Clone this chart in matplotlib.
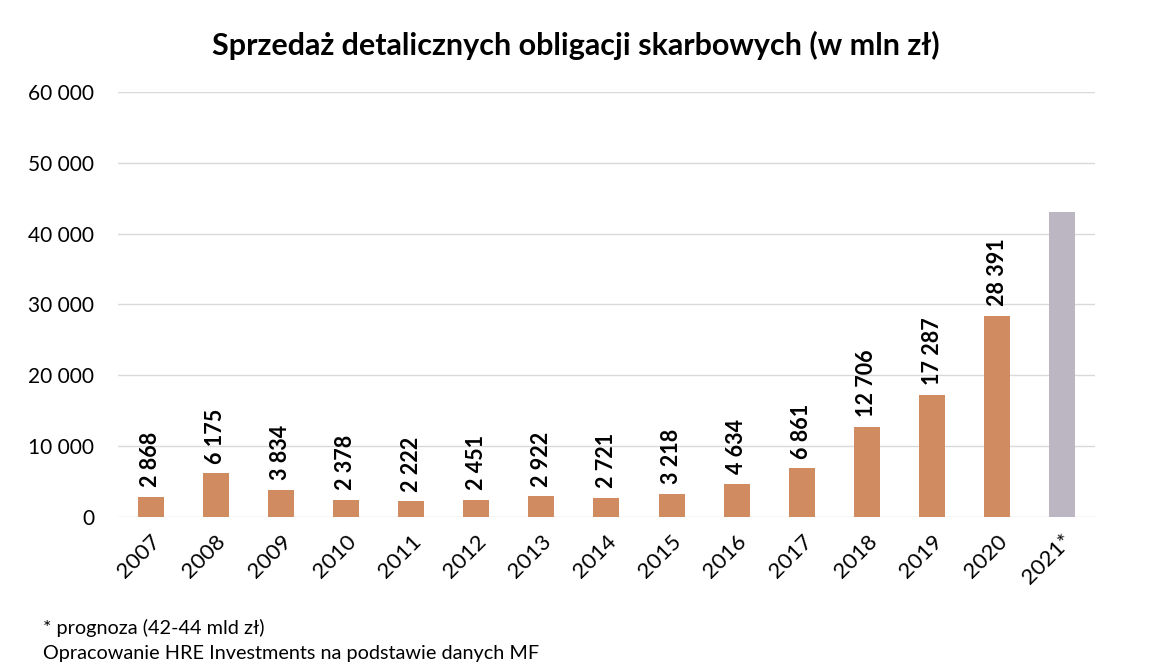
import matplotlib.pyplot as plt
from matplotlib.ticker import FuncFormatter

plt.rcParams['font.family'] = ['Lato', 'DejaVu Sans']

years = ['2007', '2008', '2009', '2010', '2011', '2012', '2013', '2014',
         '2015', '2016', '2017', '2018', '2019', '2020', '2021*']
sales = [2868, 6175, 3834, 2378, 2222, 2451, 2922, 2721,
         3218, 4634, 6861, 12706, 17287, 28391, 43100]
forecast = [False] * 14 + [True]

orange = '#D08C60'
grey = '#BCB6C3'


def pl_thousands(v, pos=None):
    return f'{int(v):,}'.replace(',', ' ')


fig = plt.figure(figsize=(11.52, 6.72), dpi=100)
ax = fig.add_axes([0.1024, 0.2307, 0.848, 0.6325])

colors = [grey if f else orange for f in forecast]
x = range(len(years))
ax.bar(x, sales, width=0.4, color=colors, zorder=2)

for i, (v, f) in enumerate(zip(sales, forecast)):
    if f:
        continue
    ax.annotate(pl_thousands(v), (i, v), xytext=(0, 7), textcoords='offset points',
                rotation=90, ha='center', va='bottom', fontsize=15.5,
                fontweight='bold', color='black')

ax.set_xlim(-0.5, len(years) - 0.5)
ax.set_ylim(0, 60000)
ax.set_yticks(range(0, 60001, 10000))
ax.yaxis.set_major_formatter(FuncFormatter(pl_thousands))
ax.set_xticks(list(x))
ax.set_xticklabels(years, rotation=45, ha='right', rotation_mode='anchor')
ax.tick_params(axis='both', length=0, labelsize=15, colors='black')
ax.tick_params(axis='x', labelsize=16, pad=10)
ax.tick_params(axis='y', pad=17)
ax.grid(axis='y', color='#D9D9D9', linewidth=1, zorder=0)
for s in ax.spines.values():
    s.set_visible(False)

fig.text(0.5, 0.933, 'Sprzedaż detalicznych obligacji skarbowych (w mln zł)',
         ha='center', va='center', fontsize=22, fontweight='bold')
fig.text(0.037, 0.065, '* prognoza (42-44 mld zł)', fontsize=14.3, va='center')
fig.text(0.037, 0.027, 'Opracowanie HRE Investments na podstawie danych MF',
         fontsize=14.3, va='center')

fig.savefig('out.png', dpi=100)
